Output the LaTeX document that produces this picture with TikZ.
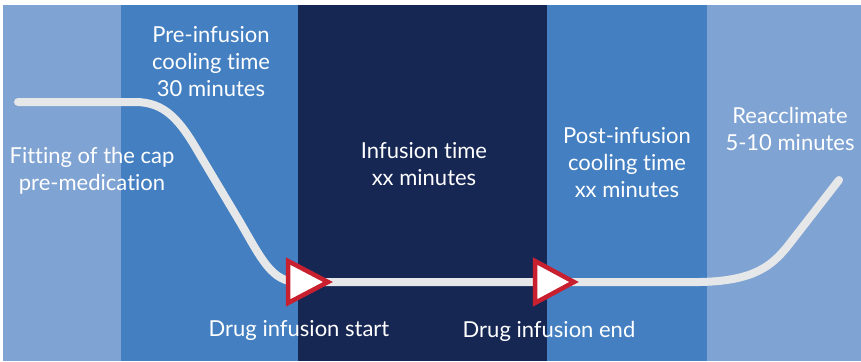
\documentclass[tikz,border=0pt]{standalone}
\usepackage{fontspec}
\setmainfont{Lato}[Ligatures={NoCommon,NoRare,NoDiscretionary}]
\definecolor{lightband}{HTML}{7FA3D2}
\definecolor{midband}{HTML}{4480C1}
\definecolor{darkband}{HTML}{172754}
\definecolor{curvegray}{HTML}{E6E7E8}
\definecolor{markred}{HTML}{C8202F}
\tikzset{
  band/.style={fill=#1, draw=none},
  lbl/.style={text=white, font=\fontsize{22}{27}\selectfont, align=center, inner sep=0pt},
  curve/.style={draw=curvegray, line width=8pt, line cap=round, line join=round},
  marker/.style={draw=markred, fill=white, line width=4.5pt, line join=miter},
}
\begin{document}
\begin{tikzpicture}[x=1pt,y=-1pt]
\useasboundingbox (0,0) rectangle (861,361);
\fill[white] (0,0) rectangle (861,361);
\fill[band=lightband] (3,5) rectangle (121,361);
\fill[band=midband] (121,5) rectangle (298,361);
\fill[band=darkband] (298,5) rectangle (547,361);
\fill[band=midband] (547,5) rectangle (707,361);
\fill[band=lightband] (707,5) rectangle (861,361);
% curve
\coordinate (cstart) at (18,102);
\coordinate (cend) at (839,180);
\draw[curve] (cstart) -- (135,102) .. controls (165,102) and (180,120) .. (200,155)
  -- (240,222) .. controls (262,260) and (272,282) .. (298,282)
  -- (700,282) .. controls (755,281) and (772,265) .. (787,247) -- (cend);
% markers
\draw[marker] (288,261) -- (328,282) -- (288,303) -- cycle;
\draw[marker] (535,261) -- (574,282) -- (535,303) -- cycle;
% labels
\node[lbl] (pre) at (211,62) {Pre-infusion\\cooling time\\30 minutes};
\node[lbl] (fit) at (92,171) {Fitting of the cap\\pre-medication};
\node[lbl] (inf) at (424,164) {Infusion time\\xx minutes};
\node[lbl] (post) at (627,163) {Post-infusion\\cooling time\\xx minutes};
\node[lbl] (reac) at (790,129) {Reacclimate\\5-10 minutes};
\node[lbl] (dstart) at (299,330) {Drug infusion start};
\node[lbl] (dend) at (549,331) {Drug infusion end};
\end{tikzpicture}
\end{document}
